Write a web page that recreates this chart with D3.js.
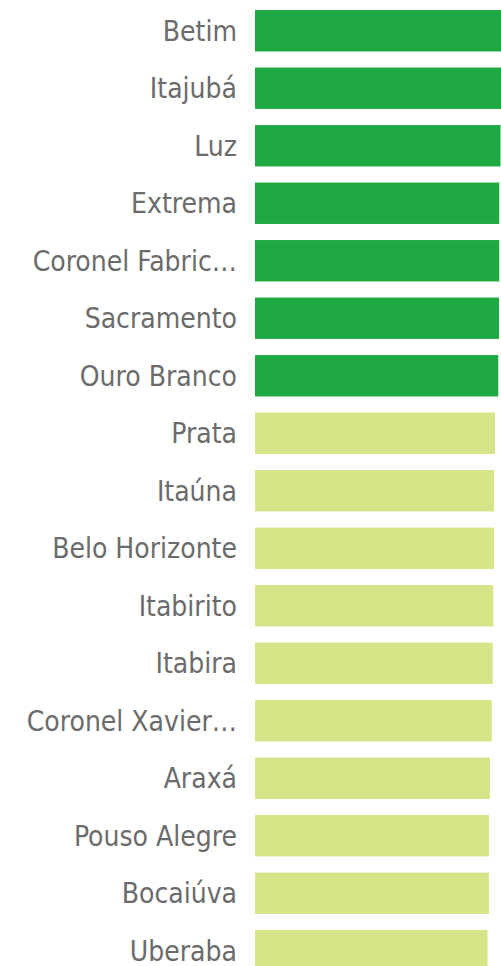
<!DOCTYPE html>
<html>
<head>
<meta charset="utf-8">
<script src="https://cdn.jsdelivr.net/npm/d3@7/dist/d3.min.js"></script>
<style>
  html, body { margin: 0; padding: 0; background: #ffffff; overflow: hidden; }
  svg { display: block; }
</style>
</head>
<body>
<div id="chart"></div>
<script>
// Municipalities, ranked by score
const cities = [
  "Betim", "Itajubá", "Luz", "Extrema", "Coronel Fabric…", "Sacramento",
  "Ouro Branco", "Prata", "Itaúna", "Belo Horizonte", "Itabirito", "Itabira",
  "Coronel Xavier…", "Araxá", "Pouso Alegre", "Bocaiúva", "Uberaba"
];
const scores = [
  99.2, 98.8, 98.2, 97.7, 97.7, 97.6, 97.3, 96.0, 95.6, 95.6,
  95.3, 95.1, 94.7, 94.0, 93.6, 93.6, 93.0
];
// Tier of each municipality: "top" or "high"
const tiers = [
  "top", "top", "top", "top", "top", "top", "top",
  "high", "high", "high", "high", "high", "high", "high", "high", "high", "high"
];
const tierNames = ["top", "high"];
const tierColors = ["#1ea942", "#d5e587"];

const width = 501, height = 966;
const barLeft = 255;

const data = cities.map((c, i) => ({ city: c, score: scores[i], tier: tiers[i] }));

const svg = d3.select("#chart").append("svg")
  .attr("width", width)
  .attr("height", height);

const x = d3.scaleLinear().domain([0, 100]).range([barLeft, barLeft + 250]);
const y = d3.scaleBand()
  .domain(cities)
  .range([2, 2 + cities.length * 57.5])
  .paddingInner(0.28)
  .paddingOuter(0.14);
const color = d3.scaleOrdinal().domain(tierNames).range(tierColors);

svg.append("g")
  .selectAll("rect")
  .data(data)
  .join("rect")
  .attr("x", x(0))
  .attr("y", d => y(d.city))
  .attr("width", d => x(d.score) - x(0))
  .attr("height", y.bandwidth())
  .attr("fill", d => color(d.tier));

const axis = d3.axisLeft(y).tickSize(0).tickPadding(0);
const gAxis = svg.append("g")
  .attr("transform", `translate(${barLeft - 18},0)`)
  .call(axis);
gAxis.select(".domain").remove();
gAxis.selectAll("text")
  .attr("fill", "#6b6b6b")
  .attr("font-family", "'DejaVu Sans Condensed', 'DejaVu Sans', sans-serif")
  .attr("font-size", 28)
  .attr("dy", "0.36em");
</script>
</body>
</html>
